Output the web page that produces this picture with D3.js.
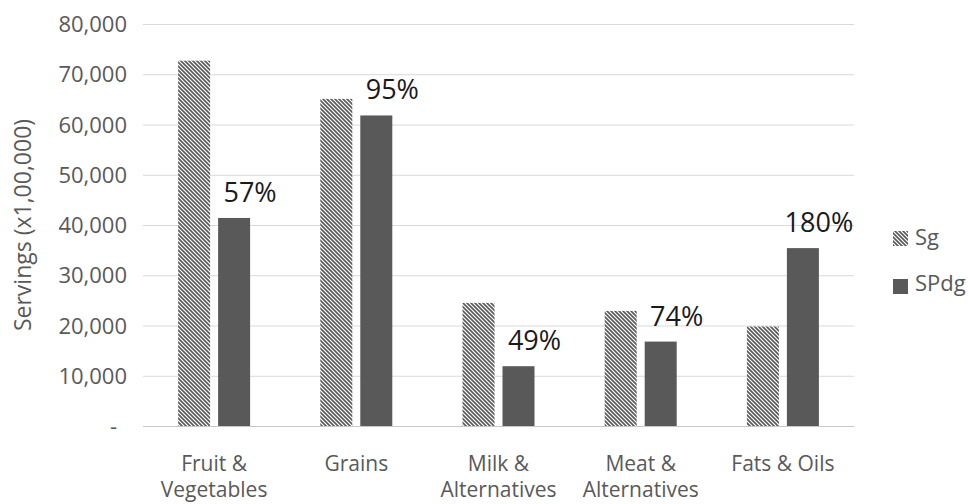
<!DOCTYPE html>
<html><head><meta charset="utf-8">
<script src="https://cdn.jsdelivr.net/npm/d3@7"></script>
<style>body{margin:0;background:#fff}svg{display:block}text{font-family:"Open Sans","Noto Sans",sans-serif}</style>
</head><body>
<svg id="c" width="969" height="504"></svg>
<script>
const categories = [["Fruit &","Vegetables"],["Grains"],["Milk &","Alternatives"],["Meat &","Alternatives"],["Fats & Oils"]];
const sgValues   = [72700, 65100, 24500, 22900, 19800];
const spdgValues = [41400, 61800, 11900, 16800, 35400];
const pctLabels  = ["57%","95%","49%","74%","180%"];
const yTicks     = [0,10000,20000,30000,40000,50000,60000,70000,80000];
const seriesNames = ["Sg","SPdg"];

const svg = d3.select("#c");
const L = 143, R = 854, T = 24, B = 426;
const x = d3.scaleBand().domain(d3.range(categories.length)).range([L, R]);
const y = d3.scaleLinear().domain([0, 80000]).range([B, T]);
const barW = 32, gap = 8;

const defs = svg.append("defs");
const pat = defs.append("pattern").attr("id","hatch").attr("patternUnits","userSpaceOnUse")
  .attr("width",4).attr("height",4);
pat.append("rect").attr("width",4).attr("height",4).attr("fill","#fff");
pat.append("path").attr("d","M-1,-1 L5,5 M-1,3 L1,5 M3,-1 L5,1").attr("stroke","#595959").attr("stroke-width",1.6);

// gridlines
svg.append("g").selectAll("line").data(yTicks).join("line")
  .attr("x1",L).attr("x2",R).attr("y1",d=>y(d)+0.5).attr("y2",d=>y(d)+0.5)
  .attr("stroke", d=> d===0 ? "#c8c8c8" : "#d9d9d9").attr("stroke-width",1);

// y axis labels
const fmt = d3.format(",");
const yAxis = d3.axisLeft(y).tickValues(yTicks).tickSize(0).tickPadding(0)
  .tickFormat(d => d===0 ? "-" : fmt(d));
const ga = svg.append("g").attr("transform",`translate(127,0)`).call(yAxis);
ga.select(".domain").remove();
ga.selectAll("text").attr("fill","#595959").style("font-size","22px")
  .style("font-family",'"Open Sans","Noto Sans",sans-serif').attr("dy","0.35em")
  .attr("dx", d => d===0 ? -10 : 0);

svg.append("text").attr("transform",`translate(31,225) rotate(-90)`)
  .attr("text-anchor","middle").attr("fill","#595959").style("font-size","23px")
  .text("Servings (x1,00,000)");

const cx = i => x(i) + x.bandwidth()/2;
// bars
svg.append("g").selectAll("rect").data(sgValues).join("rect")
  .attr("x",(d,i)=>cx(i)-gap/2-barW).attr("width",barW)
  .attr("y",d=>y(d)).attr("height",d=>B-y(d)).attr("fill","url(#hatch)");
svg.append("g").selectAll("rect").data(spdgValues).join("rect")
  .attr("x",(d,i)=>cx(i)+gap/2).attr("width",barW)
  .attr("y",d=>y(d)).attr("height",d=>B-y(d)).attr("fill","#595959");

// pct labels
svg.append("g").selectAll("text").data(spdgValues).join("text")
  .attr("x",(d,i)=>cx(i)+gap/2+barW).attr("y",d=>y(d)-16)
  .attr("text-anchor","middle").attr("fill","#1a1a1a").style("font-size","27px")
  .text((d,i)=>pctLabels[i]);

// category labels (one text element per line)
const catLines = [];
categories.forEach((lines,i)=>lines.forEach((t,j)=>catLines.push({t,i,j})));
svg.append("g").selectAll("text").data(catLines).join("text")
  .attr("text-anchor","middle").attr("fill","#595959").style("font-size","21px")
  .attr("x",d=>cx(d.i)).attr("y",d=>471+d.j*26).text(d=>d.t);

// legend
const lg = svg.append("g");
lg.append("rect").attr("x",893).attr("y",231).attr("width",15).attr("height",15).attr("fill","url(#hatch)");
lg.append("rect").attr("x",893).attr("y",279).attr("width",15).attr("height",15).attr("fill","#595959");
lg.selectAll("text").data(seriesNames).join("text")
  .attr("x",915).attr("y",(d,i)=>245+i*46).attr("fill","#595959").style("font-size","22px").text(d=>d);
</script>
</body></html>
